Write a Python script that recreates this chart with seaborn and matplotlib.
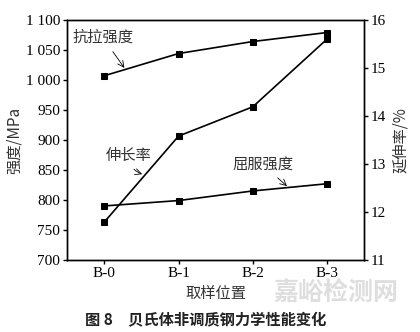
import matplotlib
matplotlib.use("Agg")
import matplotlib.pyplot as plt
import seaborn as sns
import pandas as pd
from matplotlib.ticker import FuncFormatter

sns.set_theme(style="ticks")
plt.rcParams["font.family"] = ["Liberation Serif", "Noto Sans CJK SC"]

positions = ["B-0", "B-1", "B-2", "B-3"]
tensile = [1007, 1044, 1064, 1079]
yield_strength = [790, 799, 815, 827]
elongation = [11.79, 13.58, 14.19, 15.60]

df = pd.DataFrame({"pos": positions, "x": range(len(positions)),
                   "tensile": tensile, "yield": yield_strength,
                   "elong": elongation})

fig = plt.figure(figsize=(4.20, 3.32), dpi=100)
ax = fig.add_axes([0.16, 0.217, 0.707, 0.723])
ax2 = ax.twinx()

style = dict(color="black", marker="s", markersize=4.5, linewidth=1.2,
             markeredgecolor="black")
sns.lineplot(data=df, x="x", y="tensile", ax=ax, **style)
sns.lineplot(data=df, x="x", y="yield", ax=ax, **style)
sns.lineplot(data=df, x="x", y="elong", ax=ax2, **style)

ax.set_xlim(-0.5, 3.5)
ax.set_ylim(700, 1100)
ax2.set_ylim(11, 16)
ax.set_xticks(range(len(positions)))
ax.set_xticklabels(positions)
ax.set_yticks(range(700, 1101, 50))
ax.yaxis.set_major_formatter(FuncFormatter(lambda v, p: f"{int(v):,}".replace(",", " ")))
ax2.set_yticks(range(11, 17))

for a in (ax, ax2):
    for s in a.spines.values():
        s.set_linewidth(1.0)
        s.set_color("black")
    a.tick_params(direction="out", length=3, width=1.0, labelsize=11,
                  colors="black", pad=2)

cjk = ["Noto Sans CJK SC"]
ax.set_xlabel("取样位置", family=cjk, fontsize=11, color="#333333", labelpad=4)
ax.set_ylabel("强度/MPa", family=cjk, fontsize=11, color="#333333", labelpad=2)
ax2.set_ylabel("延伸率/%", family=cjk, fontsize=11, color="#333333", labelpad=4)

ax.annotate("抗拉强度", xy=(0.27, 1020), xytext=(-0.43, 1063),
            family=cjk, fontsize=11, color="#333333",
            arrowprops=dict(arrowstyle="->", color="black", lw=0.6,
                            shrinkA=2, shrinkB=0))
ax.annotate("伸长率", xy=(0.51, 843), xytext=(0.02, 867),
            family=cjk, fontsize=11, color="#333333",
            arrowprops=dict(arrowstyle="->", color="black", lw=0.6,
                            connectionstyle="arc3,rad=0.35",
                            shrinkA=2, shrinkB=0))
ax.annotate("屈服强度", xy=(2.46, 823), xytext=(1.72, 852),
            family=cjk, fontsize=11, color="#333333",
            arrowprops=dict(arrowstyle="->", color="black", lw=0.6,
                            shrinkA=2, shrinkB=0))

fig.text(0.49, 0.035, "图 8　贝氏体非调质钢力学性能变化", family=cjk,
         fontsize=11, fontweight="bold", ha="center", va="center", color="#222222")
fig.text(0.80, 0.118, "嘉峪检测网", family=cjk, fontsize=18, fontweight="bold",
         color="#dedede", ha="center", va="center", zorder=0)

fig.savefig("out.png", dpi=100)
